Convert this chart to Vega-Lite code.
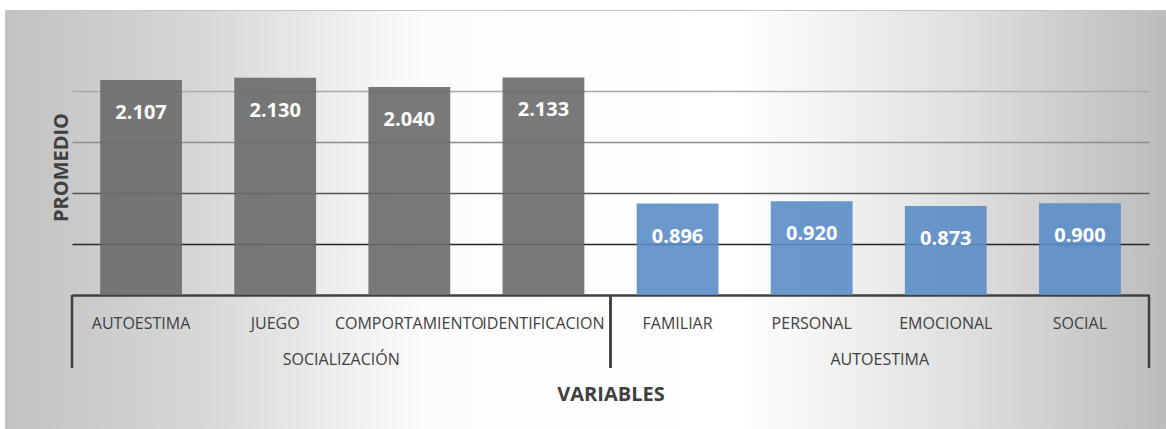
{
  "$schema": "https://vega.github.io/schema/vega-lite/v6.json",
  "width": 1161,
  "height": 419,
  "autosize": {"type": "none"},
  "padding": {"left": 5, "top": 10, "right": 0, "bottom": 0},
  "background": "white",
  "view": {
    "fill": {
      "gradient": "linear",
      "x1": 0, "y1": 0, "x2": 1, "y2": 0,
      "stops": [
        {"offset": 0, "color": "#c2c2c2"},
        {"offset": 0.17, "color": "#d7d7d7"},
        {"offset": 0.36, "color": "#fcfcfc"},
        {"offset": 0.63, "color": "#ffffff"},
        {"offset": 0.82, "color": "#e0e0e0"},
        {"offset": 1, "color": "#bcbcbc"}
      ]
    },
    "stroke": "#c4c4c4",
    "strokeWidth": 1
  },
  "datasets": {
    "scores": [
      {"group": "SOCIALIZACIÓN", "variable": "AUTOESTIMA", "value": 2.107},
      {"group": "SOCIALIZACIÓN", "variable": "JUEGO", "value": 2.130},
      {"group": "SOCIALIZACIÓN", "variable": "COMPORTAMIENTO", "value": 2.040},
      {"group": "SOCIALIZACIÓN", "variable": "IDENTIFICACION", "value": 2.133},
      {"group": "AUTOESTIMA", "variable": "FAMILIAR", "value": 0.896},
      {"group": "AUTOESTIMA", "variable": "PERSONAL", "value": 0.920},
      {"group": "AUTOESTIMA", "variable": "EMOCIONAL", "value": 0.873},
      {"group": "AUTOESTIMA", "variable": "SOCIAL", "value": 0.900}
    ],
    "groups": [
      {"group": "SOCIALIZACIÓN"},
      {"group": "AUTOESTIMA"}
    ]
  },
  "layer": [
    {
      "data": {"name": "scores"},
      "encoding": {
        "x": {
          "field": "variable",
          "type": "nominal",
          "sort": null,
          "scale": {"range": [67, 1144], "paddingInner": 0.39, "paddingOuter": 0.21},
          "axis": {
            "orient": "bottom",
            "offset": -134,
            "domainColor": "#404040",
            "domainWidth": 2.5,
            "ticks": false,
            "tickSize": 0,
            "labelPadding": 28,
            "labelBaseline": "middle",
            "labelAngle": 0,
            "labelFont": "Open Sans",
            "labelFontSize": 16,
            "labelColor": "#404040",
            "title": "VARIABLES",
            "titleFont": "Open Sans",
            "titleFontSize": 20,
            "titleFontWeight": "bold",
            "titleColor": "#404040",
            "titleY": 99,
            "titleBaseline": "middle"
          }
        },
        "y": {
          "field": "value",
          "type": "quantitative",
          "scale": {"domain": [-1.314, 2.794], "nice": false, "zero": false},
          "axis": {
            "values": [0.5, 1, 1.5, 2],
            "labels": false,
            "ticks": false,
            "domain": false,
            "grid": true,
            "gridWidth": 1.5,
            "gridColor": {
              "condition": [
                {"test": "datum.value >= 2", "value": "#a9a9a9"},
                {"test": "datum.value >= 1.5", "value": "#8c8c8c"},
                {"test": "datum.value >= 1", "value": "#555555"}
              ],
              "value": "#262626"
            },
            "title": "PROMEDIO",
            "titleFont": "Open Sans",
            "titleFontSize": 20,
            "titleFontWeight": "bold",
            "titleColor": "#404040",
            "titleAngle": -90,
            "titleX": 56,
            "titleY": 157,
            "titleAlign": "center",
            "titleBaseline": "middle"
          }
        }
      },
      "layer": [
        {
          "mark": {"type": "bar", "opacity": 0.9},
          "encoding": {
            "y2": {"datum": 0},
            "color": {
              "field": "group",
              "type": "nominal",
              "scale": {"domain": ["SOCIALIZACIÓN", "AUTOESTIMA"], "range": ["#6a6a6a", "#5a8cc7"]},
              "legend": null
            }
          }
        },
        {
          "mark": {
            "type": "text",
            "dy": 33,
            "baseline": "middle",
            "font": "Open Sans",
            "fontWeight": "bold",
            "fontSize": 20,
            "color": "#ffffff"
          },
          "encoding": {
            "text": {"field": "value", "type": "quantitative", "format": ".3f"}
          }
        }
      ]
    },
    {
      "data": {"name": "groups"},
      "layer": [
        {
          "mark": {"type": "rule", "color": "#404040", "strokeWidth": 2.5},
          "encoding": {
            "x": {"field": "group", "type": "nominal", "sort": null, "bandPosition": 0,
                  "scale": {"range": [67, 1144], "paddingInner": 0, "paddingOuter": 0}, "axis": null},
            "y": {"datum": 0, "type": "quantitative"},
            "y2": {"datum": -0.716}
          }
        },
        {
          "mark": {"type": "rule", "color": "#404040", "strokeWidth": 2.5},
          "encoding": {
            "x": {"field": "group", "type": "nominal", "sort": null, "bandPosition": 1, "axis": null},
            "y": {"datum": 0, "type": "quantitative"},
            "y2": {"datum": -0.716}
          }
        },
        {
          "mark": {
            "type": "text",
            "baseline": "middle",
            "font": "Open Sans",
            "fontSize": 16,
            "color": "#404040"
          },
          "encoding": {
            "x": {"field": "group", "type": "nominal", "sort": null, "axis": null},
            "y": {"datum": -0.64, "type": "quantitative"},
            "text": {"field": "group"}
          }
        }
      ]
    }
  ],
  "resolve": {"scale": {"x": "independent"}}
}
